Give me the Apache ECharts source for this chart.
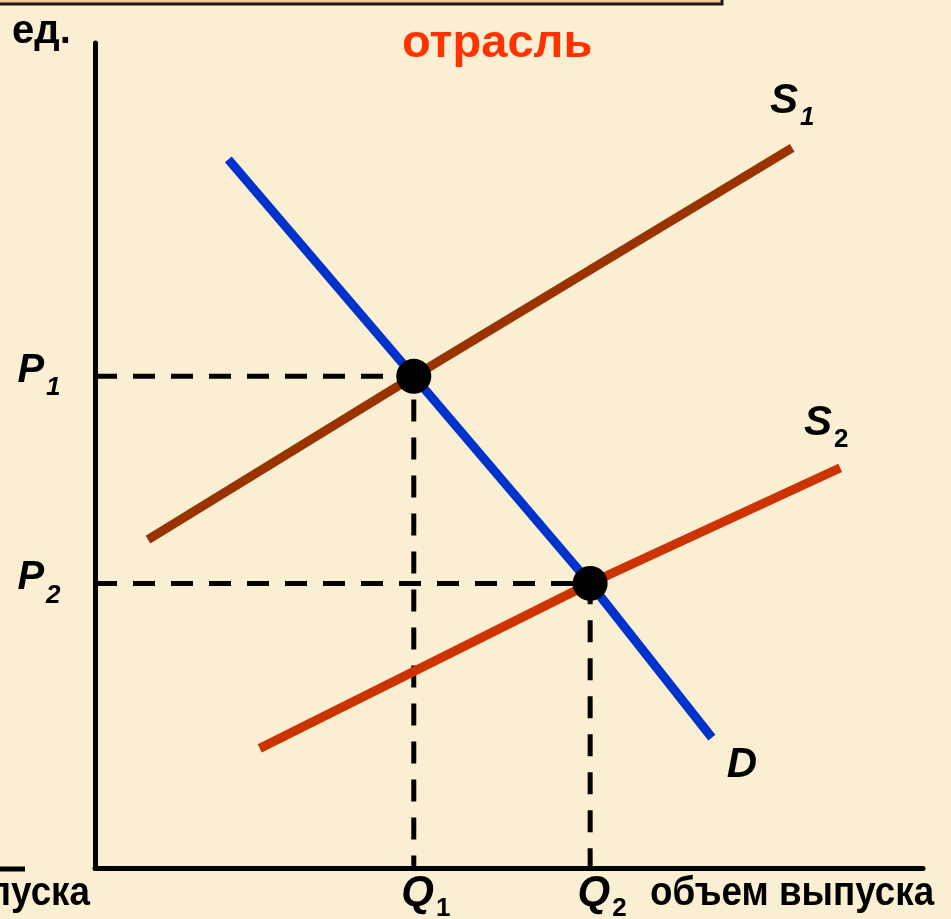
<!DOCTYPE html>
<html>
<head>
<meta charset="utf-8">
<script src="https://cdn.jsdelivr.net/npm/echarts@6/dist/echarts.min.js"></script>
<style>
html, body { margin: 0; padding: 0; background: #faeed3; }
#chart { width: 951px; height: 919px; }
</style>
</head>
<body>
<div id="chart"></div>
<script>
// данные (условные единицы: объем 0..100, цена 0..100)
var Q1 = 38.5, Q2 = 59.8;
var P1 = 59.6, P2 = 34.5;
var demandD = [[16.1, 85.9], [Q1, P1], [Q2, P2], [74.5, 15.8]];
var supplyS1 = [[6.4, 39.8], [Q1, P1], [84.2, 87.3]];
var supplyS2 = [[19.9, 14.5], [Q2, P2], [90.0, 48.5]];
var equilibria = [[Q1, P1], [Q2, P2]];
var guide1 = [[0, P1], [Q1, P1], [Q1, 0]];
var guide2 = [[0, P2], [Q2, P2], [Q2, 0]];

(function() {
    var myChart = echarts.init(document.getElementById('chart'));
    var FONT = '"Liberation Sans", Arial, sans-serif';

    // подписи вида P₁, Q₂, S₁
    var rich = {
        m: { fontFamily: FONT, fontSize: 42, fontWeight: 'bold', fontStyle: 'italic', color: '#000', verticalAlign: 'top' },
        p: { fontFamily: FONT, fontSize: 40, fontWeight: 'bold', fontStyle: 'italic', color: '#000', verticalAlign: 'top' },
        s: { fontFamily: FONT, fontSize: 26, fontWeight: 'bold', fontStyle: 'italic', color: '#000', verticalAlign: 'top', padding: [24, 0, 0, 2] },
        u: { fontFamily: FONT, fontSize: 26, fontWeight: 'bold', color: '#000', verticalAlign: 'top', padding: [24, 0, 0, 2] }
    };
    function tag(coord, text, offset) {
        return {
            coord: coord,
            label: { show: true, formatter: text, rich: rich, offset: offset }
        };
    }
    var noSymbol = { symbol: 'circle', symbolSize: 1, itemStyle: { color: 'transparent' } };

    function curve(name, data, color, tagData) {
        return {
            name: name,
            type: 'line',
            data: data,
            showSymbol: false,
            silent: true,
            z: 3,
            lineStyle: { color: color, width: 9, cap: 'butt' },
            markPoint: Object.assign({ silent: true, data: tagData }, noSymbol)
        };
    }
    function guide(name, data, tagData) {
        return {
            name: name,
            type: 'line',
            data: data,
            showSymbol: false,
            silent: true,
            z: 2,
            lineStyle: { color: '#000', width: 5, type: [22, 16] },
            markPoint: Object.assign({ silent: true, data: tagData }, noSymbol)
        };
    }

    var option = {
        backgroundColor: '#faeed3',
        animation: false,
        grid: { left: 95, top: 43, right: 28, bottom: 51 },
        xAxis: {
            type: 'value', min: 0, max: 100,
            axisLine: { show: true, lineStyle: { color: '#000', width: 5 } },
            axisTick: { show: false }, axisLabel: { show: false }, splitLine: { show: false }
        },
        yAxis: {
            type: 'value', min: 0, max: 100,
            axisLine: { show: true, lineStyle: { color: '#000', width: 5 } },
            axisTick: { show: false }, axisLabel: { show: false }, splitLine: { show: false }
        },
        series: [
            guide('g1', guide1, [
                tag([0, P1], '{p|P}{s|1}', [-56, 0]),
                tag([Q1, 0], '{m|Q}{u|1}', [12, 29])
            ]),
            guide('g2', guide2, [
                tag([0, P2], '{p|P}{s|2}', [-56, 0]),
                tag([Q2, 0], '{m|Q}{u|2}', [12, 29])
            ]),
            curve('S1', supplyS1, '#993300', [tag(supplyS1[supplyS1.length - 1], '{m|S}{s|1}', [0, -42])]),
            curve('S2', supplyS2, '#cc3300', [tag(supplyS2[supplyS2.length - 1], '{m|S}{u|2}', [-14, -40])]),
            curve('D', demandD, '#0033cc', [tag(demandD[demandD.length - 1], '{m|D}', [30, 28])]),
            {
                name: 'equilibrium',
                type: 'scatter',
                data: equilibria,
                symbolSize: 35,
                silent: true,
                z: 5,
                itemStyle: { color: '#000', opacity: 1 }
            }
        ],
        graphic: [
            // рамка заголовка сверху
            { type: 'rect', shape: { x: -6, y: -12, width: 728, height: 16 },
              style: { fill: '#fcc894', stroke: '#1a1a1a', lineWidth: 3 } },
            { type: 'text', x: 12, y: 32,
              style: { text: 'ед.', font: 'bold 40px ' + FONT, fill: '#000', verticalAlign: 'middle' } },
            { type: 'text', x: 402, y: 44,
              style: { text: 'отрасль', font: 'bold 47px ' + FONT, fill: '#ff3300', verticalAlign: 'middle' } },
            // фрагмент соседнего графика слева
            { type: 'line', shape: { x1: 0, y1: 869, x2: 25, y2: 869 },
              style: { stroke: '#000', lineWidth: 5 } },
            { type: 'text', x: 90, y: 894, scaleX: 0.92,
              style: { text: 'пуска', font: 'bold 40px ' + FONT, fill: '#000', align: 'right', verticalAlign: 'middle' } },
            { type: 'text', x: 650, y: 894, scaleX: 0.92,
              style: { text: 'объем выпуска', font: 'bold 40px ' + FONT, fill: '#000', verticalAlign: 'middle' } }
        ]
    };
    myChart.setOption(option);
    window.addEventListener('resize', function() {
        myChart.resize();
    });
})();
</script>
</body>
</html>
